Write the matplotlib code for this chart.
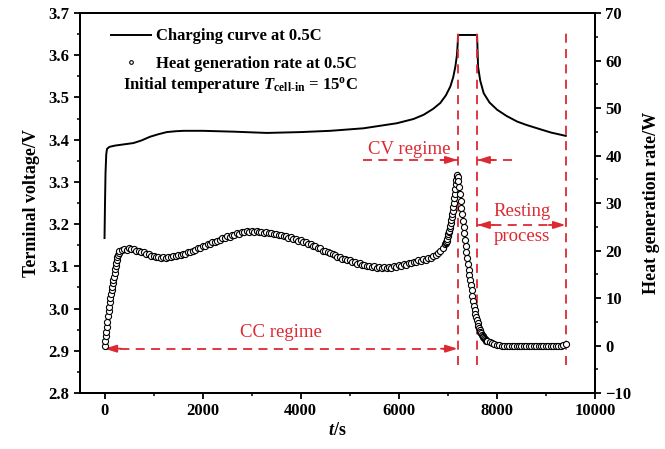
import numpy as np
import matplotlib
matplotlib.use("Agg")
import matplotlib.pyplot as plt
from matplotlib.ticker import MultipleLocator

plt.rcParams["font.family"] = "Liberation Serif"
plt.rcParams["font.weight"] = "bold"
plt.rcParams["axes.labelweight"] = "bold"
plt.rcParams["mathtext.fontset"] = "custom"
plt.rcParams["mathtext.rm"] = "Liberation Serif:bold"
plt.rcParams["mathtext.bf"] = "Liberation Serif:bold"
plt.rcParams["mathtext.it"] = "Liberation Serif:italic:bold"

RED = "#dc2a32"

# charging curve (time in s, terminal voltage in V)
volt_t = [0, 10, 20, 35, 50, 100, 214, 400, 588, 750, 929, 1100, 1269, 1450, 1608,
          2000, 2629, 3310, 4000, 4602, 5282, 5963, 6300, 6507, 6700, 6847, 6960,
          7051, 7110, 7153, 7185, 7200, 7208, 7596, 7604, 7616, 7660, 7731, 7850,
          8004, 8200, 8412, 8600, 8820, 9100, 9404]
volt_v = [3.167, 3.25, 3.32, 3.365, 3.378, 3.383, 3.386, 3.389, 3.392, 3.398, 3.407,
          3.413, 3.418, 3.420, 3.421, 3.421, 3.419, 3.416, 3.418, 3.421, 3.427, 3.439,
          3.449, 3.459, 3.473, 3.487, 3.505, 3.526, 3.548, 3.573, 3.600, 3.625, 3.648,
          3.648, 3.620, 3.573, 3.540, 3.510, 3.488, 3.471, 3.456, 3.443, 3.435, 3.427,
          3.417, 3.409]

# heat generation rate (W), logged at different intervals per stage
rise_t = np.arange(0, 301, 12)
rise_w = [0.0, 0.9, 1.9, 2.9, 3.9, 5.0, 6.2, 7.3, 8.2, 9.1, 10.0, 10.8, 11.6, 12.3,
          13.1, 13.8, 14.5, 15.3, 16.1, 16.8, 17.4, 18.0, 18.6, 19.1, 19.5, 19.8]

cc_t = np.arange(350, 6951, 50)
cc_w = [20.1, 20.4, 20.2, 20.6, 20.4, 20.3, 19.9, 20.0, 19.6, 19.7,
        19.3, 19.2, 18.8, 18.9, 18.6, 18.7, 18.4, 18.6, 18.4, 18.7,
        18.6, 18.9, 18.8, 19.1, 19.0, 19.3, 19.3, 19.6, 19.6, 20.0,
        20.1, 20.5, 20.5, 20.9, 20.9, 21.3, 21.3, 21.7, 21.7, 22.1,
        22.2, 22.6, 22.6, 23.0, 22.9, 23.3, 23.3, 23.6, 23.5, 23.8,
        23.8, 24.1, 23.9, 24.2, 24.0, 24.1, 23.9, 24.0, 23.7, 23.9,
        23.6, 23.7, 23.4, 23.5, 23.2, 23.3, 23.0, 23.1, 22.7, 22.8,
        22.4, 22.5, 22.1, 22.2, 21.8, 21.8, 21.4, 21.4, 20.9, 20.9,
        20.5, 20.5, 20.0, 20.0, 19.6, 19.5, 19.2, 19.1, 18.7, 18.7,
        18.3, 18.3, 17.9, 17.9, 17.5, 17.6, 17.2, 17.3, 16.9, 17.0,
        16.7, 16.8, 16.5, 16.7, 16.4, 16.6, 16.3, 16.5, 16.3, 16.6,
        16.4, 16.7, 16.6, 16.9, 16.8, 17.1, 17.0, 17.4, 17.3, 17.6,
        17.5, 17.9, 17.8, 18.2, 18.1, 18.5, 18.5, 18.9, 19.0, 19.5,
        19.8, 20.5, 21.3]

peak_t = np.arange(6960, 7191, 10)
peak_w = [21.5, 21.8, 22.1, 22.5, 23.0, 23.4, 23.8, 24.2, 24.7, 25.2, 25.8, 26.4,
          27.0, 27.7, 28.4, 29.2, 30.0, 31.0, 32.0, 33.0, 34.0, 34.9, 35.6, 36.0]

fall_t = np.arange(7200, 7801, 15)
fall_w = [35.5, 34.6, 33.4, 32.0, 30.5, 29.0, 27.6, 26.3, 25.0, 23.6, 22.3, 21.0,
          19.7, 18.4, 17.2, 16.0, 14.9, 13.8, 12.7, 11.6, 10.5, 9.4, 8.4, 7.5, 6.7,
          6.0, 5.3, 4.7, 4.2, 3.7, 3.3, 2.9, 2.6, 2.3, 2.0, 1.8, 1.6, 1.4, 1.2, 1.0, 0.9]

rest_t = np.arange(7850, 9401, 50)
rest_w = [0.7, 0.5, 0.4, 0.2, 0.1, 0.0, -0.1, 0.0, -0.2, -0.1, -0.2, 0.0, -0.2, -0.1,
          -0.2, 0.0, -0.1, -0.2, -0.1, 0.0, -0.2, -0.1, -0.2, 0.0, -0.1, -0.2, 0.0,
          -0.1, -0.2, 0.0, 0.1, 0.4]

heat_t = np.concatenate([rise_t, cc_t, peak_t, fall_t, rest_t])
heat_w = np.concatenate([rise_w, cc_w, peak_w, fall_w, rest_w])

# regime boundaries (s)
t_cv, t_rest, t_end = 7200, 7600, 9400


def dashed_arrow(ax, x0, x1, y, heads):
    ax.plot([x0, x1], [y, y], color=RED, lw=1.3, ls=(0, (5, 3.5)))
    for x, sgn in heads:
        ax.annotate("", xy=(x, y), xytext=(-12 * sgn, 0), textcoords="offset points",
                    arrowprops=dict(arrowstyle="-|>,head_length=0.7,head_width=0.22",
                                    color=RED, lw=1.3, shrinkA=0, shrinkB=0))


fig = plt.figure(figsize=(6.65, 4.49), dpi=100)
ax = fig.add_axes([0.1203, 0.1247, 0.7744, 0.8463])
ax2 = ax.twinx()

line, = ax.plot(volt_t, volt_v, color="black", lw=1.4)
pts, = ax2.plot(heat_t, heat_w, ls="none", marker="o", ms=4.4, mfc="white",
                mec="black", mew=0.8)

ax.set_xlim(-500, 10000)
ax.set_ylim(2.8, 3.7)
ax2.set_ylim(-10, 70)

ax.xaxis.set_major_locator(MultipleLocator(2000))
ax.xaxis.set_minor_locator(MultipleLocator(1000))
ax.yaxis.set_major_locator(MultipleLocator(0.1))
ax.yaxis.set_minor_locator(MultipleLocator(0.05))
ax2.yaxis.set_major_locator(MultipleLocator(10))
ax2.yaxis.set_minor_locator(MultipleLocator(5))

for a in (ax, ax2):
    a.tick_params(which="major", direction="out", length=4, width=1.3, labelsize=12)
    a.tick_params(which="minor", direction="out", length=2.5, width=1.1)
    for sp in a.spines.values():
        sp.set_linewidth(1.4)
ax.tick_params(top=False, which="both")
ax.set_yticklabels([f"{v:.1f}" for v in ax.get_yticks()])

ax.set_xlabel("$t$/s", fontsize=13, labelpad=2)
ax.set_ylabel("Terminal voltage/V", fontsize=13, labelpad=6)
ax2.set_ylabel("Heat generation rate/W", fontsize=13, labelpad=8)

# regime boundaries
ax.vlines([t_cv, t_rest, t_end], 2.866, 3.66, color=RED, lw=1.3, ls=(0, (5, 3.5)))

dashed_arrow(ax, 0, t_cv, 2.905, [(0, -1), (t_cv, 1)])
dashed_arrow(ax, 5280, t_cv, 3.352, [(t_cv, 1)])
dashed_arrow(ax, 8310, t_rest, 3.352, [(t_rest, -1)])
dashed_arrow(ax, t_rest, t_end, 3.198, [(t_rest, -1), (t_end, 1)])

txt = dict(color=RED, fontsize=13.5, fontweight="normal", ha="center", va="center")
ax.text(3600, 2.943, "CC regime", **txt)
ax.text(6220, 3.377, "CV regime", **txt)
ax.text(8515, 3.229, "Resting", **txt)
ax.text(8515, 3.170, "process", **txt)

ax.legend([line, pts], ["Charging curve at 0.5C", "Heat generation rate at 0.5C"],
          loc="upper left", bbox_to_anchor=(0.038, 0.99), frameon=False,
          fontsize=12, handlelength=2.4, handletextpad=0.3, labelspacing=0.7,
          borderpad=0.2, markerscale=0.6)
ax.text(0.083, 0.811, r"Initial temperature $T_{\mathrm{cell}\text{-}\mathrm{in}}$ = 15$^{\mathrm{o}}$C",
        transform=ax.transAxes, fontsize=12, va="center", ha="left")

fig.savefig("out.png", dpi=100)
